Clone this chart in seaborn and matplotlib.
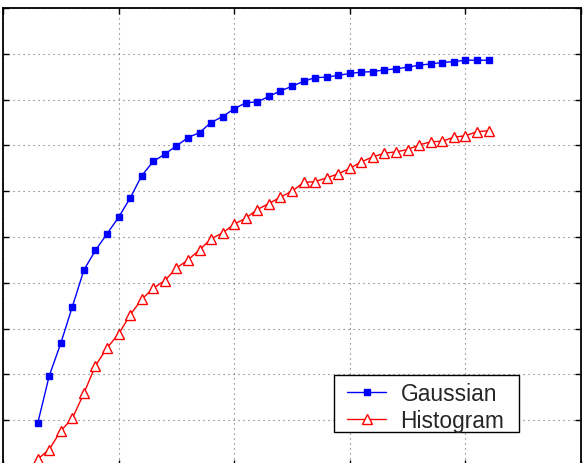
import matplotlib
matplotlib.use("Agg")
import matplotlib.pyplot as plt
from matplotlib.legend_handler import HandlerLine2D
from matplotlib.patches import Rectangle
import seaborn as sns
import numpy as np

# data
x_vals = list(range(3, 43))
gaussian = [9.3, 19.7, 26.8, 34.8, 42.8, 47.1, 50.7, 54.3, 58.5, 63.4,
            66.5, 68.1, 69.9, 71.7, 72.8, 75.0, 76.3, 78.0, 79.3, 79.5,
            80.7, 81.9, 82.9, 84.0, 84.8, 84.9, 85.3, 85.7, 86.0, 86.1,
            86.5, 86.7, 87.1, 87.5, 87.8, 88.1, 88.3, 88.6, 88.6, 88.6]
histogram = [1.5, 3.6, 7.7, 10.4, 15.9, 21.9, 25.8, 28.8, 33.0, 36.4,
             38.8, 40.5, 43.2, 45.0, 47.2, 49.6, 50.9, 52.8, 54.1, 56.0,
             57.3, 58.7, 60.0, 61.9, 62.1, 62.9, 63.8, 65.0, 66.4, 67.5,
             68.3, 68.6, 69.1, 70.1, 70.8, 70.9, 71.8, 72.1, 73.0, 73.2]
labels = ["Gaussian", "Histogram"]

sns.set_style("white")
plt.rcParams['font.family'] = ['Liberation Sans', 'DejaVu Sans']

W, H = 588, 464
fig = plt.figure(figsize=(W / 100, H / 100), dpi=100)
left, right, top, bottom = 3, 581, 9, 467
ax = fig.add_axes([left / W, (H - bottom) / H, (right - left) / W, (bottom - top) / H])

sns.lineplot(x=x_vals, y=gaussian, ax=ax, color="blue", marker="s",
             markersize=5, markerfacecolor="blue", markeredgecolor="blue",
             markeredgewidth=1, linewidth=1, label=labels[0])
sns.lineplot(x=x_vals, y=histogram, ax=ax, color="red", marker="^",
             markersize=7.5, markerfacecolor="white", markeredgecolor="red",
             markeredgewidth=1, linewidth=1, label=labels[1])

ax.set_xlim(0, 50)
ax.set_ylim(0, 100)
ax.set_xticks(np.arange(0, 51, 10))
ax.set_yticks(np.arange(0, 101, 10))
ax.set_xticklabels([])
ax.set_yticklabels([])
ax.set_xlabel("")
ax.set_ylabel("")
ax.tick_params(direction="in", length=4, width=1, top=True, right=True,
               bottom=True, left=True, color="black")
ax.grid(True, color="0.4", linestyle=(0, (1, 3.5)), linewidth=0.8)
for s in ax.spines.values():
    s.set_color("black")
    s.set_linewidth(1.3)
    s.set_visible(True)


class ShiftedHandler(HandlerLine2D):
    def __init__(self, shift, **kw):
        super().__init__(**kw)
        self.shift = shift

    def create_artists(self, legend, orig_handle, xdescent, ydescent, width,
                       height, fontsize, trans):
        return super().create_artists(legend, orig_handle,
                                      xdescent - self.shift, ydescent,
                                      width - self.shift, height, fontsize,
                                      trans)


# legend frame (pixel box, top-left origin)
bx0, bx1, by0, by1 = 334, 519, 375.5, 433.3
ax.add_patch(Rectangle(((bx0 - left) / (right - left), (bottom - by1) / (bottom - top)),
                       (bx1 - bx0) / (right - left), (by1 - by0) / (bottom - top),
                       transform=ax.transAxes, facecolor="white", edgecolor="black",
                       linewidth=1.0, zorder=4.5, clip_on=False))

fs = 16.4
fs_px = fs * 100 / 72
handles, labs = ax.get_legend_handles_labels()
hlen_px = 386.7 - 347.7
gap_px = 401 - 386.7
target_text_left = 400.5
target_text_top = 383.0
target_row_sep = 26.7


def make_legend(ls, anchor):
    lg = ax.legend(handles, labs,
                   loc="upper left", bbox_to_anchor=anchor,
                   bbox_transform=fig.transFigure,
                   borderaxespad=0, borderpad=0, fontsize=fs, frameon=False,
                   handlelength=hlen_px / fs_px,
                   handletextpad=gap_px / fs_px, labelspacing=ls)
    return lg


anchor = (bx0 / W, 1 - by0 / H)
ls = 0.23
leg = make_legend(ls, anchor)
fig.canvas.draw()
for _ in range(3):
    r = fig.canvas.get_renderer()
    t0 = leg.get_texts()[0].get_window_extent(r)
    t1 = leg.get_texts()[1].get_window_extent(r)
    sep = t0.y1 - t1.y1
    ls = ls + (target_row_sep - sep) / fs_px
    # shift anchor so first text top-left lands on target
    dx = target_text_left - t0.x0
    dy = (H - target_text_top) - t0.y1
    anchor = (anchor[0] + dx / W, anchor[1] + dy / H)
    leg.remove()
    leg = make_legend(ls, anchor)
    fig.canvas.draw()

fig.savefig("out.png", dpi=100)
